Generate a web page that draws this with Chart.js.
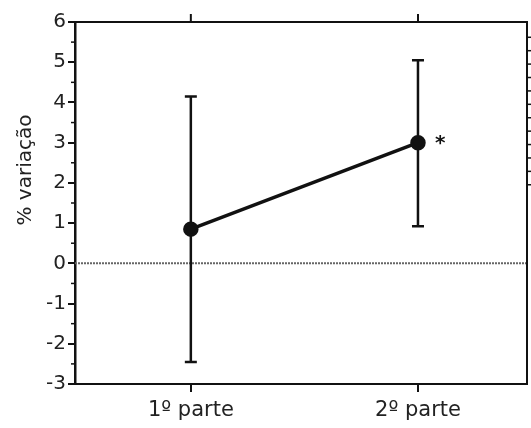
<!DOCTYPE html>
<html>
<head>
<meta charset="utf-8">
<script src="https://cdn.jsdelivr.net/npm/chart.js@4/dist/chart.umd.min.js"></script>
<style>
  html, body { margin: 0; padding: 0; background: #fff; }
  #wrap { width: 531px; height: 428px; }
</style>
</head>
<body>
<div id="wrap"><canvas id="c" width="531" height="428"></canvas></div>
<script>
// Categories and values
const parts = ['1º parte', '2º parte'];
const partPos = [1, 2];
const meanChange = [0.85, 3.0];
const upperLimit = [4.15, 5.05];
const lowerLimit = [-2.45, 0.92];
const significant = [false, true];
const yTickValues = [-3, -2, -1, 0, 1, 2, 3, 4, 5, 6];
const yTitle = '% variação';

const FONT = '"DejaVu Sans", Verdana, sans-serif';
const INK = '#111';

// Error bars, zero line, frame, minor ticks, title and significance marks
const decor = {
  id: 'decor',
  beforeDatasetsDraw(chart) {
    const { ctx, chartArea: a, scales: { x, y } } = chart;
    ctx.save();
    // dotted zero reference line
    ctx.strokeStyle = '#666';
    ctx.lineWidth = 2;
    ctx.setLineDash([2, 1]);
    const y0 = y.getPixelForValue(0);
    ctx.beginPath();
    ctx.moveTo(a.left, y0);
    ctx.lineTo(a.right, y0);
    ctx.stroke();
    ctx.setLineDash([]);
    // error bars
    ctx.strokeStyle = INK;
    ctx.lineWidth = 2.5;
    partPos.forEach((p, i) => {
      const px = x.getPixelForValue(p);
      const top = y.getPixelForValue(upperLimit[i]);
      const bot = y.getPixelForValue(lowerLimit[i]);
      ctx.beginPath();
      ctx.moveTo(px, top); ctx.lineTo(px, bot);
      ctx.moveTo(px - 6, top); ctx.lineTo(px + 6, top);
      ctx.moveTo(px - 6, bot); ctx.lineTo(px + 6, bot);
      ctx.stroke();
    });
    ctx.restore();
  },
  afterDraw(chart) {
    const { ctx, chartArea: a, scales: { x, y } } = chart;
    ctx.save();
    ctx.strokeStyle = INK;
    // frame top and right
    ctx.lineWidth = 2;
    ctx.beginPath();
    ctx.moveTo(a.left, a.top); ctx.lineTo(a.right, a.top); ctx.lineTo(a.right, a.bottom);
    ctx.stroke();
    // ticks on top edge at category positions
    partPos.forEach(p => {
      const px = x.getPixelForValue(p);
      ctx.beginPath(); ctx.moveTo(px, a.top); ctx.lineTo(px, a.top - 8); ctx.stroke();
    });
    // minor ticks on left axis at half units
    ctx.lineWidth = 1.5;
    for (let v = -2.5; v < 6; v += 1) {
      const py = y.getPixelForValue(v);
      ctx.beginPath(); ctx.moveTo(a.left - 4, py); ctx.lineTo(a.left, py); ctx.stroke();
    }
    // short ticks on right edge
    for (let v = 5.62; v > 1.9; v -= 1 / 3) {
      const py = y.getPixelForValue(v);
      ctx.beginPath(); ctx.moveTo(a.right, py); ctx.lineTo(a.right + 4, py); ctx.stroke();
    }
    // significance marks
    ctx.fillStyle = INK;
    ctx.font = 'bold 20px ' + FONT;
    ctx.textAlign = 'left';
    ctx.textBaseline = 'middle';
    partPos.forEach((p, i) => {
      if (significant[i]) {
        ctx.fillText('*', x.getPixelForValue(p) + 17, y.getPixelForValue(meanChange[i]) + 1);
      }
    });
    // y axis title
    ctx.font = '20px ' + FONT;
    ctx.fillStyle = '#222';
    ctx.textAlign = 'center';
    ctx.translate(26, 170);
    ctx.rotate(-Math.PI / 2);
    ctx.fillText(yTitle, 0, 0);
    ctx.restore();
  }
};

new Chart(document.getElementById('c'), {
  type: 'line',
  data: {
    datasets: [{
      data: partPos.map((p, i) => ({ x: p, y: meanChange[i] })),
      borderColor: INK,
      backgroundColor: INK,
      borderWidth: 3.5,
      pointRadius: 6,
      pointHoverRadius: 6,
      pointBackgroundColor: INK,
      pointBorderColor: INK,
      tension: 0
    }]
  },
  options: {
    responsive: false,
    animation: false,
    events: [],
    layout: { autoPadding: false, padding: { top: 22, right: 4, left: 0, bottom: 0 } },
    plugins: { legend: { display: false }, tooltip: { enabled: false } },
    scales: {
      x: {
        type: 'linear',
        min: 0.49,
        max: 2.48,
        afterBuildTicks(scale) { scale.ticks = partPos.map(v => ({ value: v })); },
        afterFit(scale) { scale.height = 44; scale.paddingLeft = 0; scale.paddingRight = 0; },
        ticks: {
          callback: (v) => parts[partPos.indexOf(v)] ?? '',
          color: '#222',
          font: { family: FONT, size: 21 },
          padding: 6,
          maxRotation: 0
        },
        grid: { drawOnChartArea: false, tickLength: 8, color: INK, lineWidth: 2 },
        border: { display: true, color: INK, width: 2 }
      },
      y: {
        min: -3,
        max: 6,
        afterBuildTicks(scale) { scale.ticks = yTickValues.map(v => ({ value: v })); },
        afterFit(scale) { scale.width = 75; scale.paddingTop = 0; scale.paddingBottom = 0; },
        ticks: {
          color: '#222',
          font: { family: FONT, size: 20 },
          padding: 2
        },
        grid: { drawOnChartArea: false, tickLength: 7, color: INK, lineWidth: 2 },
        border: { display: true, color: INK, width: 2.5 }
      }
    }
  },
  plugins: [decor]
});
</script>
</body>
</html>
